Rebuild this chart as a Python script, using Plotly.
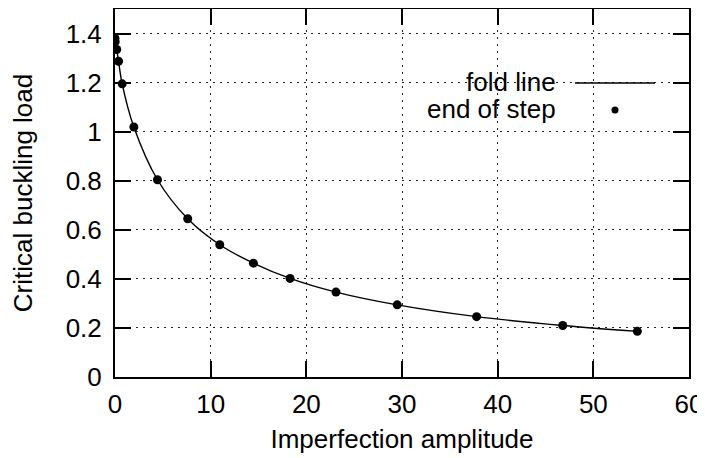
import plotly.graph_objects as go

# Data
fold_x = [0.0, 0.02, 0.18, 0.37, 0.75, 1.97, 4.44, 7.6, 10.95, 14.47, 18.3, 23.1, 29.5, 37.8, 46.8, 54.6]
fold_y = [1.380, 1.366, 1.335, 1.287, 1.195, 1.019, 0.804, 0.645, 0.539, 0.464, 0.402, 0.346, 0.294, 0.246, 0.210, 0.186]

step_x = [0.0, 0.02, 0.18, 0.37, 0.75, 1.97, 4.44, 7.6, 10.95, 14.47, 18.3, 23.1, 29.5, 37.8, 46.8, 54.6]
step_y = [1.380, 1.366, 1.335, 1.287, 1.195, 1.019, 0.804, 0.645, 0.539, 0.464, 0.402, 0.346, 0.294, 0.246, 0.210, 0.186]

x_ticks = [0, 10, 20, 30, 40, 50, 60]
y_ticks = [0, 0.2, 0.4, 0.6, 0.8, 1.0, 1.2, 1.4]
y_tick_labels = ["0", "0.2", "0.4", "0.6", "0.8", "1", "1.2", "1.4"]
legend_labels = ["fold line", "end of step"]

FONT = "Liberation Sans, Arial, Helvetica, sans-serif"
OFF = 8  # page body margin
W, H = 705 - OFF, 458 - OFF
L, R, T, B = 115 - OFF, 16, 9 - OFF, 81
PW, PH = W - L - R, H - T - B


# convert page pixel positions (for the hand-drawn legend) to paper coords
def px(x):
    return (x - OFF - L) / PW


def py(y):
    return (H - B - (y - OFF)) / PH


fig = go.Figure()
fig.add_trace(go.Scatter(x=fold_x, y=fold_y, mode="lines", line=dict(color="black", width=1.4, shape="spline"),
                         name=legend_labels[0], showlegend=False))
fig.add_trace(go.Scatter(x=step_x, y=step_y, mode="markers", marker=dict(color="black", size=9),
                         name=legend_labels[1], showlegend=False))

# Legend drawn gnuplot-style (text left of sample)
shapes = [
    dict(type="rect", xref="paper", yref="paper", x0=px(385), x1=px(683), y0=py(124), y1=py(70),
         fillcolor="white", line=dict(width=0), layer="between"),
    dict(type="line", xref="paper", yref="paper", x0=px(575), x1=px(655), y0=py(83), y1=py(83),
         line=dict(color="black", width=1.4), layer="above"),
    dict(type="circle", xref="paper", yref="paper", x0=px(611.5), x1=px(618.5), y0=py(113.5), y1=py(106.5),
         fillcolor="black", line=dict(width=0), layer="above"),
]
annotations = [
    dict(text=legend_labels[0], xref="paper", yref="paper", x=px(558), y=py(82), xanchor="right", yanchor="middle",
         showarrow=False, font=dict(family=FONT, size=26, color="black")),
    dict(text=legend_labels[1], xref="paper", yref="paper", x=px(558), y=py(109), xanchor="right", yanchor="middle",
         showarrow=False, font=dict(family=FONT, size=26, color="black")),
]

axis_common = dict(showline=True, linecolor="black", linewidth=2, mirror="ticks", ticks="inside", ticklen=16,
                   tickwidth=2, tickcolor="black", showgrid=True, gridcolor="#222222", gridwidth=1.2,
                   griddash="2px,5px", zeroline=False, tickfont=dict(family=FONT, size=26, color="black"))

fig.update_layout(
    width=W, height=H,
    margin=dict(l=L, r=R, t=T, b=B, pad=0),
    plot_bgcolor="white", paper_bgcolor="white",
    font=dict(family=FONT, size=26, color="black"),
    showlegend=False,
    shapes=shapes, annotations=annotations,
    xaxis=dict(range=[0, 60], tickvals=x_ticks, ticktext=[str(v) for v in x_ticks],
               title=dict(text="Imperfection amplitude", font=dict(family=FONT, size=26), standoff=12),
               automargin=False, ticklabelstandoff=3, **axis_common),
    yaxis=dict(range=[0, 1.5], tickvals=y_ticks, ticktext=y_tick_labels,
               title=dict(text="Critical buckling load", font=dict(family=FONT, size=26), standoff=36),
               automargin=False, ticklabelstandoff=6, **axis_common),
)

fig.write_html("out.html")
